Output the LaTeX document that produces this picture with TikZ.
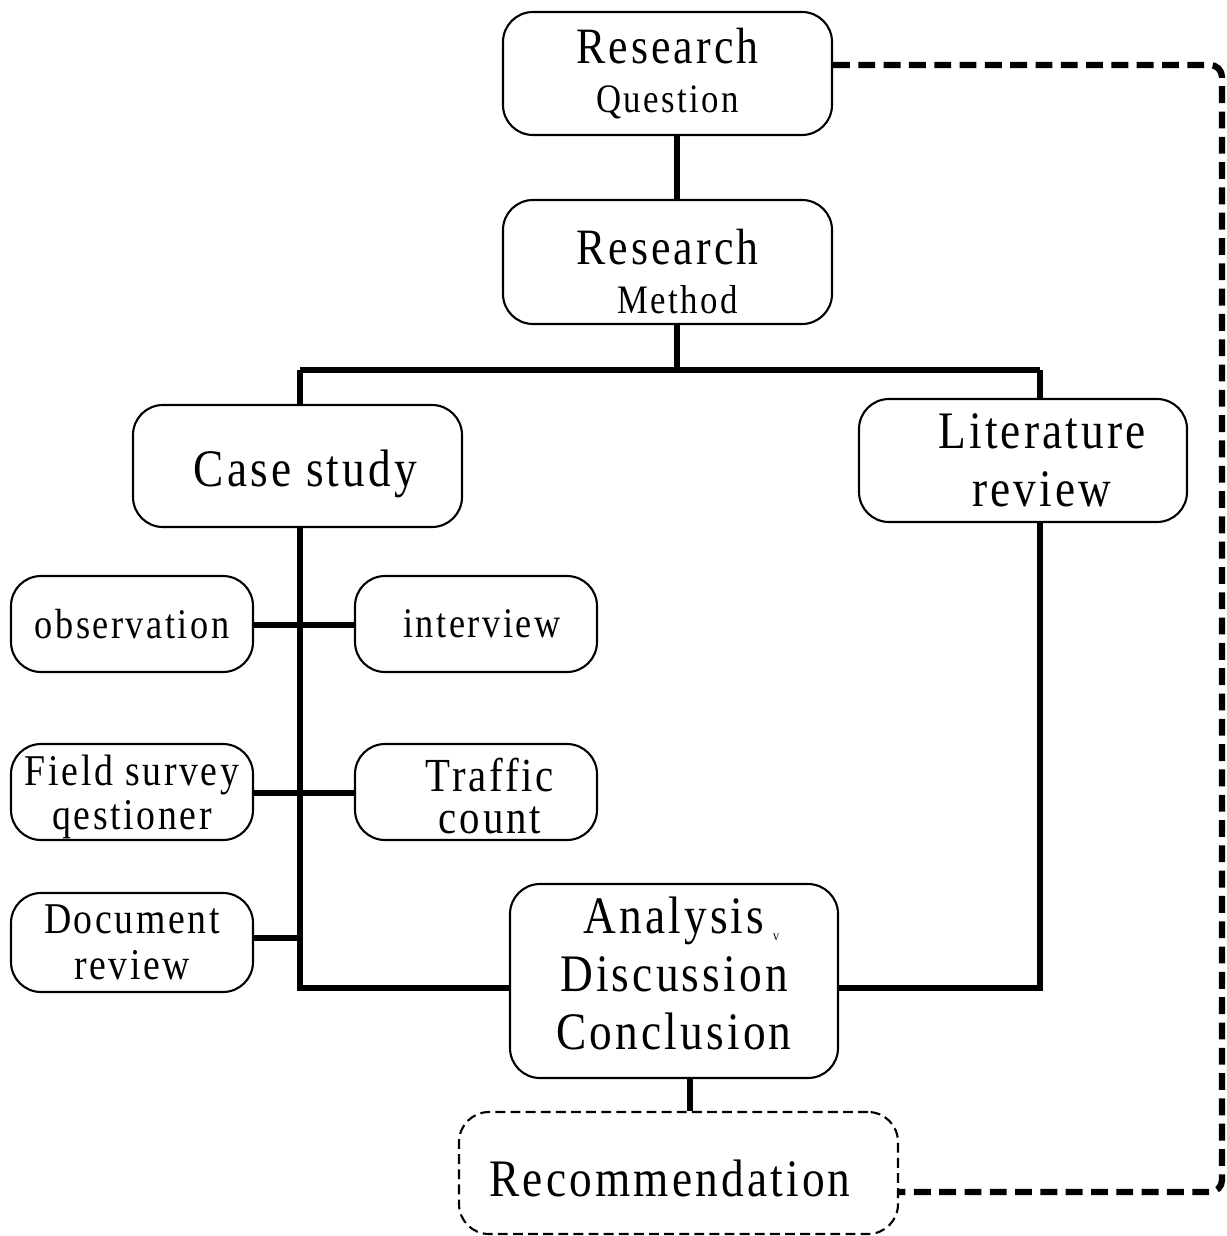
\documentclass[tikz,border=0pt]{standalone}
\usepackage{fontspec}
\setmainfont{Liberation Serif}[FakeStretch=0.86, LetterSpace=6]
\usepackage{tikz}
\usetikzlibrary{positioning, calc}

\newcommand{\bigtxt}{\fontsize{14.5}{14}\selectfont}
\newcommand{\smalltxt}{\fontsize{11.5}{13}\selectfont}
\newcommand{\lift}[1]{\rule{0pt}{#1}}
\newcommand{\sink}[1]{\rule[-#1]{0pt}{#1}}

\begin{document}
\begin{tikzpicture}[
    box/.style={rectangle, draw, line width=0.6pt, rounded corners=0.3cm,
                align=center, inner sep=2pt},
    link/.style={line width=1.5pt},
    feedback/.style={line width=1.8pt, dash pattern=on 4.8pt off 2.4pt}
  ]
\useasboundingbox (0,0) rectangle (12.26,-12.36);

% Research chain
\node[box, minimum width=3.29cm, minimum height=1.23cm, font=\bigtxt] (question)
      at (6.675,-0.735) {Research\\{\smalltxt Question}};
\node[box, minimum width=3.29cm, minimum height=1.24cm, font=\bigtxt] (method)
      at (6.675,-2.62) {\lift{0.55cm}Research\\\hspace*{0.2cm}{\smalltxt Method}};

% Main branches
\node[box, minimum width=3.29cm, minimum height=1.22cm,
      font=\fontsize{15}{16.5}\selectfont] (casestudy) at (2.975,-4.66)
      {\lift{0.52cm}\hspace*{0.16cm}Case study};
\node[box, minimum width=3.28cm, minimum height=1.23cm,
      font=\fontsize{15}{16.5}\selectfont] (literature) at (10.23,-4.605)
      {\hspace*{0.38cm}Literature\\\hspace*{0.38cm}review};

% Case study tools
\node[box, minimum width=2.42cm, minimum height=0.96cm,
      font=\fontsize{12}{13}\selectfont] (observation) at (1.32,-6.24)
      {observation};
\node[box, minimum width=2.42cm, minimum height=0.96cm,
      font=\fontsize{12}{13}\selectfont] (interview) at (4.76,-6.24)
      {\hspace*{0.12cm}interview};
\node[box, minimum width=2.42cm, minimum height=0.96cm, inner ysep=0pt,
      font=\fontsize{12.5}{12.5}\selectfont] (fieldsurvey) at (1.32,-7.92)
      {\lift{0.40cm}Field survey\\qestioner};
\node[box, minimum width=2.42cm, minimum height=0.96cm, inner ysep=0pt,
      font=\fontsize{13.5}{12}\selectfont] (traffic) at (4.76,-7.92)
      {\lift{0.42cm}\hspace*{0.28cm}Traffic\\\hspace*{0.28cm}count};
\node[box, minimum width=2.42cm, minimum height=0.99cm,
      font=\fontsize{12.5}{13}\selectfont] (document) at (1.32,-9.425)
      {Document\\review};

% Synthesis
\node[box, minimum width=3.28cm, minimum height=1.94cm,
      font=\fontsize{15}{16.5}\selectfont] (analysis) at (6.74,-9.81)
      {Analysis\rlap{\,\raisebox{-2pt}{\fontsize{4}{4}\selectfont v}}\\Discussion\\Conclusion\sink{0.16cm}};
\node[box, dashed, dash pattern=on 2.8pt off 1.5pt, minimum width=4.39cm,
      minimum height=1.22cm, font=\fontsize{15}{16.5}\selectfont] (recommend)
      at (6.785,-11.73) {\lift{0.48cm}Recommendation\hspace*{0.17cm}};

% Junctions
\coordinate (split) at (6.77,-3.70);
\coordinate (caseline) at (3.0,-3.70);
\coordinate (litline) at (10.4,-3.70);
\coordinate (casefoot) at (3.0,-9.88);
\coordinate (litfoot) at (10.4,-9.88);
\coordinate (corner1) at (12.22,-0.65);
\coordinate (corner2) at (12.22,-11.92);

% Tree connectors
\draw[link] (question.south -| split) -- (method.north -| split);
\draw[link] (method.south -| split) -- (split);
\draw[link] (caseline) -- (litline);
\draw[link] (caseline) -- (casestudy.north -| caseline);
\draw[link] (litline) -- (literature.north -| litline);
\draw[link] (casestudy.south -| caseline) -- (casefoot) -- (analysis.west |- casefoot);
\draw[link] (literature.south -| litline) -- (litfoot) -- (analysis.east |- litfoot);
\draw[link] (observation.east |- 0,-6.25) -- (interview.west |- 0,-6.25);
\draw[link] (fieldsurvey.east |- 0,-7.93) -- (traffic.west |- 0,-7.93);
\draw[link] (document.east |- 0,-9.38) -- (caseline |- 0,-9.38);
\draw[link] (analysis.south -| 6.9,0) -- (recommend.north -| 6.9,0);

% Feedback loop
\draw[feedback, rounded corners=0.12cm] (question.east |- corner1) -- (corner1)
      -- (corner2) -- (recommend.east |- corner2);

\end{tikzpicture}
\end{document}
